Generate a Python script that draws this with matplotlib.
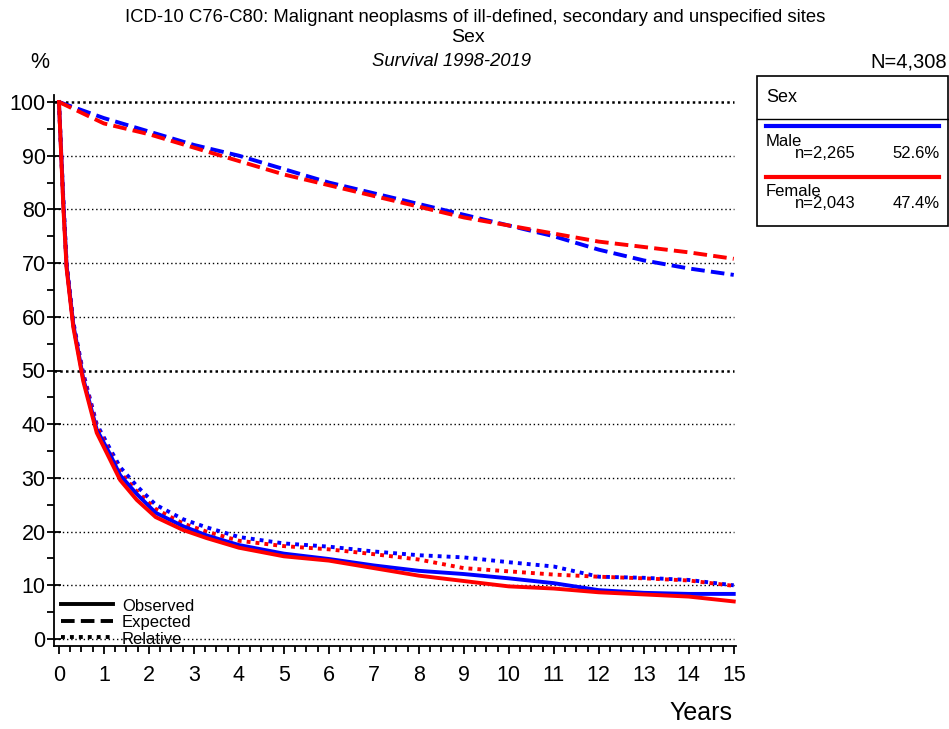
import matplotlib
matplotlib.use('Agg')
import matplotlib.pyplot as plt
import matplotlib.patches as patches
from matplotlib.lines import Line2D
from matplotlib.ticker import MultipleLocator

plt.rcParams['font.family'] = ['Liberation Sans', 'DejaVu Sans']

# === data ===
t_surv = [0, 0.1, 0.17, 0.32, 0.54, 0.84, 1.13, 1.36, 1.73, 2.15, 2.76, 3.28, 4.0,
          5, 6, 7, 8, 9, 10, 11, 12, 13, 14, 15]
male_observed = [100, 81, 69.5, 58.5, 48.5, 39, 34.5, 30.5, 27, 23.5, 21, 19.3, 17.5,
                 15.9, 14.9, 13.7, 12.7, 12.1, 11.3, 10.4, 9.1, 8.6, 8.4, 8.4]
female_observed = [100, 80, 69, 58, 48, 38.4, 33.5, 29.6, 25.9, 22.7, 20.3, 18.8, 17,
                   15.4, 14.6, 13.2, 11.8, 10.8, 9.8, 9.4, 8.7, 8.3, 7.9, 7.0]
male_relative = [100, 81.5, 70, 59, 49.5, 40, 35.5, 32, 28.5, 25, 22.3, 20.8, 19,
                 17.8, 17.2, 16.3, 15.6, 15.2, 14.3, 13.5, 11.6, 11.4, 11.0, 10.0]
female_relative = [100, 80.5, 69.5, 58.5, 49, 39.5, 34.8, 31, 27.5, 24.2, 21.5, 20, 18.3,
                   17.3, 16.7, 15.8, 14.8, 13.2, 12.6, 12.0, 11.6, 11.3, 10.9, 9.9]

t_exp = list(range(16))
male_expected = [100, 97, 94.5, 92, 90, 87.5, 85, 83, 81, 79, 77, 75, 72.5, 70.5, 69, 67.8]
female_expected = [100, 96, 94, 91.5, 89, 86.5, 84.5, 82.5, 80.5, 78.5, 77, 75.5, 74, 73, 72, 70.8]

groups = ['Male', 'Female']
group_n = ['n=2,265', 'n=2,043']
group_pct = ['52.6%', '47.4%']
BLUE = '#0000FF'
RED = '#FF0000'

W, H = 949, 729
fig = plt.figure(figsize=(W / 100, H / 100), dpi=100)
ax = fig.add_axes([54 / W, 1 - 646 / H, (736 - 54) / W, (646 - 95) / H])
ax.set_xlim(-0.11, 15.05)
ax.set_ylim(-1.3, 101.3)

# gridlines (100 and 50 drawn heavier)
for v in range(0, 101, 10):
    if v in (50, 100):
        ax.plot([-0.11, 15.0], [v, v], color='black', ls=(0, (1, 1.3)), lw=1.8, zorder=1)
    else:
        ax.plot([-0.11, 15.0], [v, v], color='black', ls=(0, (1, 2)), lw=1.0, zorder=1)

# curves
DASH = (0, (3.5, 1.6))
DOT = (0, (1, 1.3))
ax.plot(t_exp, male_expected, color=BLUE, lw=2.8, ls=DASH, zorder=3)
ax.plot(t_exp, female_expected, color=RED, lw=2.8, ls=DASH, zorder=3)
ax.plot(t_surv, male_relative, color=BLUE, lw=2.8, ls=DOT, zorder=3)
ax.plot(t_surv, female_relative, color=RED, lw=2.8, ls=DOT, zorder=3)
ax.plot(t_surv, male_observed, color=BLUE, lw=2.8, zorder=4)
ax.plot(t_surv, female_observed, color=RED, lw=2.8, zorder=4)

# axes styling
for s in ['top', 'right']:
    ax.spines[s].set_visible(False)
ax.spines['left'].set_linewidth(1.3)
ax.spines['bottom'].set_linewidth(1.3)
ax.xaxis.set_major_locator(MultipleLocator(1))
ax.xaxis.set_minor_locator(MultipleLocator(0.25))
ax.yaxis.set_major_locator(MultipleLocator(10))
ax.yaxis.set_minor_locator(MultipleLocator(5))
ax.tick_params(axis='y', which='major', direction='inout', length=10, width=1.3, labelsize=15.5, pad=1)
ax.tick_params(axis='y', which='minor', direction='out', length=5, width=1.3)
ax.tick_params(axis='x', which='major', direction='out', length=6, width=1.3, labelsize=15.5, pad=8)
ax.tick_params(axis='x', which='minor', direction='out', length=4, width=1.3)

# line-style key inside the plot
key = [('Observed', '-'), ('Expected', DASH), ('Relative', DOT)]
for i, (lab, ls) in enumerate(key):
    y = 6.5 - i * 3.1
    ax.plot([0.05, 1.2], [y, y], color='black', lw=2.8, ls=ls, clip_on=False)
    ax.text(1.4, y - 0.4, lab, fontsize=12, va='center', ha='left')

# titles
fig.text(475 / W, 1 - 17 / H, 'ICD-10 C76-C80: Malignant neoplasms of ill-defined, secondary and unspecified sites',
         ha='center', va='center', fontsize=13.3)
fig.text(468 / W, 1 - 38 / H, 'Sex', ha='center', va='center', fontsize=14)
fig.text(452 / W, 1 - 61 / H, 'Survival 1998-2019', ha='center', va='center', fontsize=13.3, style='italic')
fig.text(40 / W, 1 - 63 / H, '%', ha='center', va='center', fontsize=15.5)
fig.text(947 / W, 1 - 62 / H, 'N=4,308', ha='right', va='center', fontsize=14.5)
fig.text(701 / W, 1 - 713 / H, 'Years', ha='center', va='center', fontsize=18)

# group legend box
fig.patches.append(patches.Rectangle((757 / W, 1 - 226 / H), (948 - 757) / W, (226 - 76) / H,
                                     transform=fig.transFigure, fill=False, edgecolor='black', lw=1.2))
fig.lines.append(Line2D([757 / W, 948 / W], [1 - 119 / H, 1 - 119 / H], transform=fig.transFigure,
                        color='black', lw=1.0))
fig.text(766 / W, 1 - 97 / H, 'Sex', ha='left', va='center', fontsize=13)
for i, (g, n, p, c) in enumerate(zip(groups, group_n, group_pct, [BLUE, RED])):
    y0 = 126 + i * 51
    fig.lines.append(Line2D([766 / W, 939 / W], [1 - y0 / H, 1 - y0 / H], transform=fig.transFigure,
                            color=c, lw=3))
    fig.text(766 / W, 1 - (y0 + 15) / H, g, ha='left', va='center', fontsize=12)
    fig.text(795 / W, 1 - (y0 + 27) / H, n, ha='left', va='center', fontsize=12)
    fig.text(940 / W, 1 - (y0 + 27) / H, p, ha='right', va='center', fontsize=12)

fig.savefig('out.png', dpi=100, facecolor='white')
